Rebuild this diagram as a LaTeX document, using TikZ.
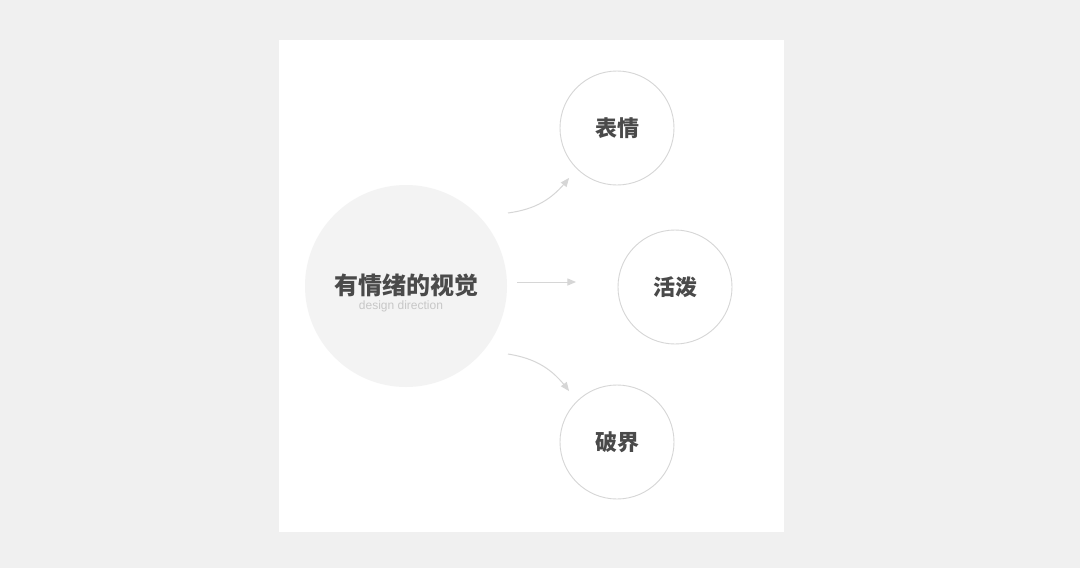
\documentclass[tikz,border=0pt]{standalone}
\usepackage{fontspec}
\newfontfamily\cjk{Noto Sans CJK SC}
\setsansfont{Liberation Sans}
\usetikzlibrary{arrows,shapes}
\definecolor{bggray}{HTML}{F0F0F0}
\definecolor{maingray}{HTML}{F3F3F3}
\definecolor{textgray}{HTML}{4A4A4A}
\definecolor{linegray}{HTML}{D6D6D6}
\tikzstyle{bigvertex}=[circle,fill=maingray,minimum size=202pt,inner sep=0pt]
\tikzstyle{vertex}=[circle,draw=linegray,line width=0.9pt,fill=white,minimum size=114pt,inner sep=0pt,font=\cjk\bfseries\fontsize{22}{24}\selectfont,text=textgray]
\tikzstyle{edge} = [draw,line width=1pt,linegray,-triangle 45]
\tikzstyle{subtitle} = [font=\sffamily\fontsize{12}{13}\selectfont,text=black!22]

\begin{document}
\begin{tikzpicture}[x=1pt,y=-1pt]
    % Background and white panel
    \fill[bggray] (0,0) rectangle (1080,568);
    \fill[white] (279,40) rectangle (784,532);
    \useasboundingbox (0,0) rectangle (1080,568);

    % Central circle
    \node[bigvertex] (main) at (406,286) {};
    \node[font=\cjk\bfseries\fontsize{24}{26}\selectfont,text=textgray] (title) at (406,285) {有情绪的视觉};
    \node[subtitle] (sub) at (401,306) {design direction};

    % Three satellite circles
    \foreach \pos/\name/\label in {{(617,128)/biaoqing/表情}, {(675,287)/huopo/活泼}, {(617,442)/pojie/破界}}
        \node[vertex] (\name) at \pos {\label};

    % Arrow ends
    \coordinate (a1) at (508,213);
    \coordinate (b1) at (569,178);
    \coordinate (a2) at (517,282);
    \coordinate (b2) at (576,282);
    \coordinate (a3) at (508,354);
    \coordinate (b3) at (569,391);

    \path[edge] (a1) to[bend right=22] (b1);
    \path[edge] (a2) -- (b2);
    \path[edge] (a3) to[bend left=22] (b3);
\end{tikzpicture}
\end{document}
